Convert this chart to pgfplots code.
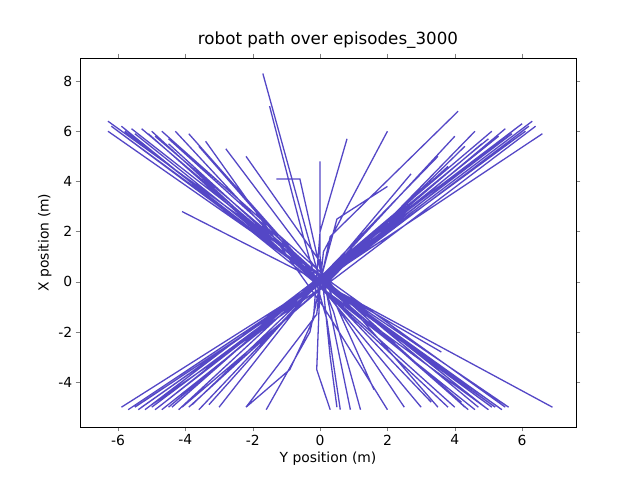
\documentclass[border=0pt]{standalone}
\usepackage{pgfplots}
\pgfplotsset{compat=1.18}
\usepackage{fontspec}
\setmainfont{DejaVu Sans}
\definecolor{lc}{RGB}{84,71,198}
\begin{document}
\begin{tikzpicture}[x=1pt,y=1pt]
\useasboundingbox (-80,-53) rectangle (560,427);
\begin{axis}[at={(0,0)},anchor=south west,scale only axis,width=496pt,height=369pt,
xmin=-7.13,xmax=7.6,ymin=-5.79,ymax=8.92,
xtick={-6,-4,-2,0,2,4,6},ytick={-4,-2,0,2,4,6,8},
tick label style={font=\fontsize{13.9}{15}\selectfont},
label style={font=\fontsize{13.9}{15}\selectfont},
title style={font=\fontsize{16.7}{18}\selectfont},
/pgf/number format/assume math mode=true,
xticklabel={\pgfmathprintnumber{\tick}},yticklabel={\pgfmathprintnumber{\tick}},
title={robot path over episodes\_3000},
xlabel={Y position (m)},ylabel={X position (m)},
tick align=outside,unbounded coords=jump]
\addplot[lc,no marks,line width=1.3pt] coordinates {
(-6.3,6.4)(0.1,0.2)(5.5,-5.0)(nan,nan)
(-6.2,6.2)(-0.1,0.1)(5.3,-5.0)(nan,nan)
(-5.9,6.2)(0,-0.2)(5.0,-5.1)(nan,nan)
(-5.6,6.1)(0.2,0.0)(4.7,-5.0)(nan,nan)
(-5.3,6.1)(-0.2,0.3)(4.4,-5.1)(nan,nan)
(-5.0,6.0)(0.1,-0.3)(4.0,-5.0)(nan,nan)
(-4.7,6.0)(0,0.4)(3.5,-5.0)(nan,nan)
(-4.3,6.0)(0.2,-0.5)(3.0,-5.0)(nan,nan)
(-3.9,5.9)(0,0)(2.5,-5.0)(nan,nan)
(-3.4,5.6)(0.1,-1.0)(2.0,-5.1)(nan,nan)
(-2.8,5.3)(-0.1,0.5)(0.4,-1.2)(1.2,-5.1)(nan,nan)
(-2.2,5.0)(0,0.8)(0.9,-5.1)(nan,nan)
(-6.3,6.0)(0,0.1)(5.6,-5.0)(nan,nan)
(-4.1,2.8)(0,0)(6.9,-5.0)(nan,nan)
(-1.7,8.3)(-0.3,1.5)(0,0)(3.6,-2.8)(nan,nan)
(-1.5,7.0)(-0.5,1.8)(0.2,-1.5)(0.6,-5.1)(nan,nan)
(0,4.8)(0,1.0)(0.3,-3.0)(0.5,-5.0)(nan,nan)
(-5.5,5.9)(0,0)(5.2,-5.0)(nan,nan)
(-4.9,5.8)(0.1,0.1)(4.9,-5.0)(nan,nan)
(-1.3,4.1)(-0.6,4.1)(0,0.5)(1.6,-4.3)(nan,nan)
(-6.1,6.1)(0.3,-0.2)(5.4,-5.1)(nan,nan)
(-5.8,6.0)(-0.2,0.2)(5.1,-5.0)(nan,nan)
(-5.1,5.9)(0.2,-0.4)(4.6,-5.1)(nan,nan)
(-4.5,5.7)(-0.3,0.6)(4.3,-5.0)(nan,nan)
(-3.6,5.4)(0.3,-0.6)(3.8,-5.0)(nan,nan)
(-5.7,5.7)(-0.4,0.4)(3.3,-4.8)(nan,nan)
(6.3,6.4)(0.1,0.1)(-5.9,-5.0)(nan,nan)
(6.2,6.2)(0,-0.1)(-5.5,-5.0)(nan,nan)
(6.0,6.3)(-0.1,0.1)(-5.2,-5.1)(nan,nan)
(5.8,6.1)(0.2,0.2)(-5.0,-5.0)(nan,nan)
(5.5,6.1)(-0.2,-0.3)(-4.7,-5.1)(nan,nan)
(5.1,6.0)(0,0.2)(-4.4,-5.0)(nan,nan)
(4.6,6.0)(0.1,-0.2)(-4.1,-5.0)(nan,nan)
(4.0,5.8)(0,0)(-3.6,-5.1)(nan,nan)
(3.5,5.0)(0.1,0.3)(-3.0,-5.0)(nan,nan)
(6.6,5.9)(0,0)(-5.7,-5.1)(nan,nan)
(2.0,6.0)(0.1,1.2)(-0.1,-1.3)(-2.2,-5.0)(nan,nan)
(4.1,6.8)(0.3,1.8)(-0.3,-2.0)(-1.6,-5.1)(nan,nan)
(0.8,5.7)(0,2.0)(-0.2,-1.5)(-0.9,-3.5)(-2.2,-5.0)(nan,nan)
(2.7,4.3)(0,0)(-4.9,-5.1)(nan,nan)
(5.9,6.2)(0,0)(-5.4,-5.1)(nan,nan)
(5.3,5.8)(0,0.1)(-4.5,-5.0)(nan,nan)
(2.0,3.8)(0.5,2.5)(0,0)(-0.1,-3.5)(0.3,-5.1)(nan,nan)
(-4.5,5.5)(0,0)(4.2,-4.8)(nan,nan)
(4.8,5.5)(0,0)(-3.8,-4.9)(nan,nan)
(6.1,6.0)(0.3,0.3)(-5.3,-5.0)(nan,nan)
(5.7,5.9)(-0.3,-0.2)(-4.8,-5.0)(nan,nan)
(5.0,5.7)(0.3,0.5)(-4.2,-5.1)(nan,nan)
(4.3,5.4)(-0.2,-0.5)(-3.9,-5.0)(nan,nan)
(6.4,6.2)(0.4,0.1)(-5.0,-4.9)(nan,nan)
(3.8,4.6)(-0.3,-0.4)(-3.3,-4.9)(nan,nan)
};
\end{axis}
\end{tikzpicture}
\end{document}
